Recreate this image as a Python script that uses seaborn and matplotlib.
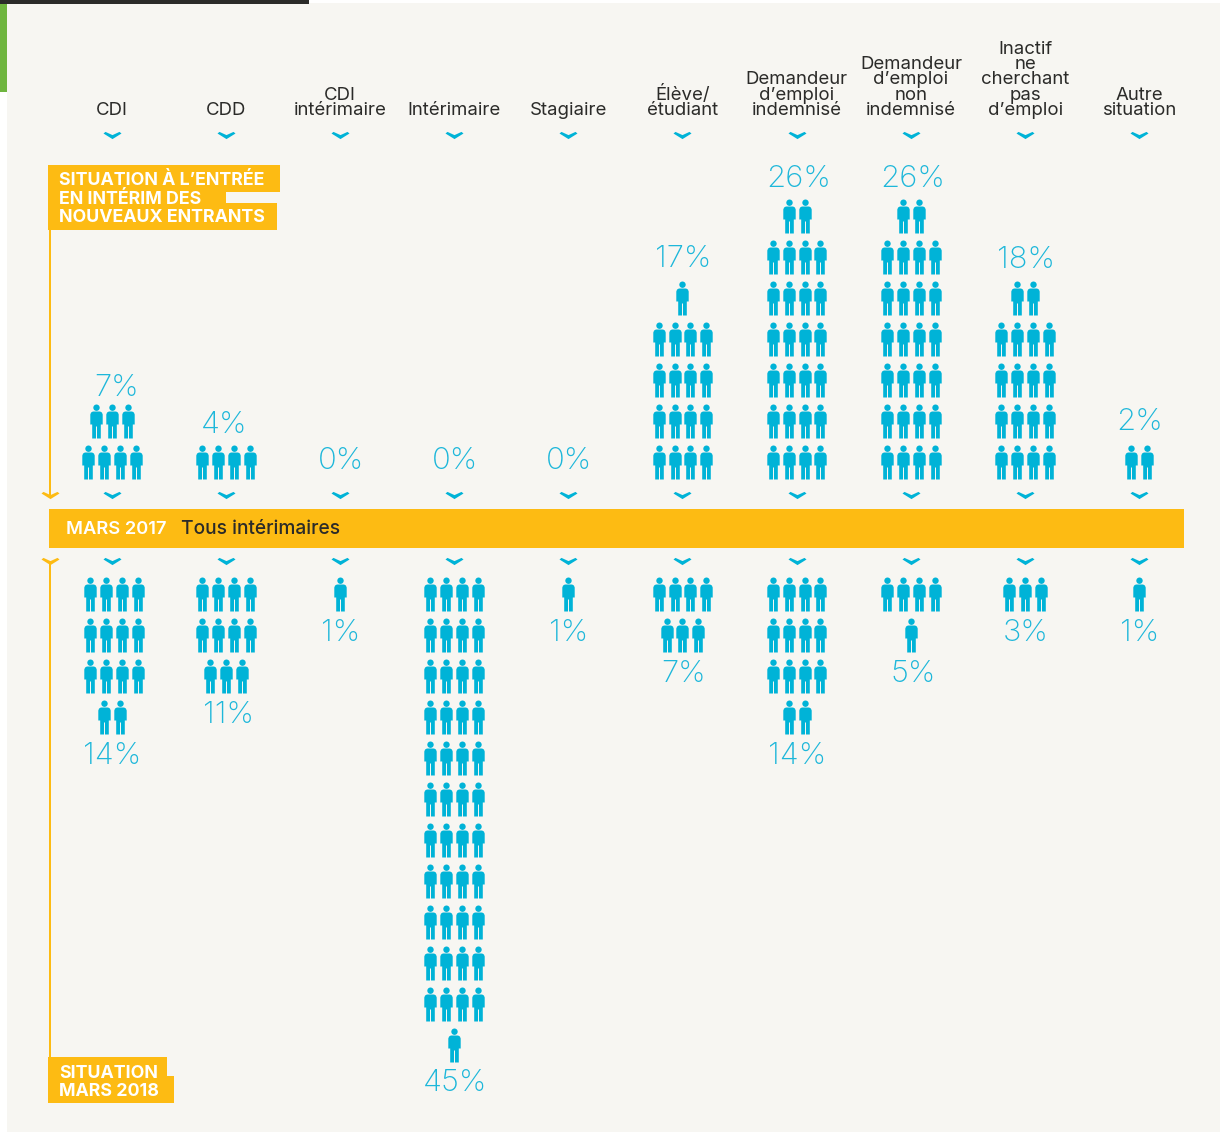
import numpy as np
import pandas as pd
import matplotlib
matplotlib.use("Agg")
import matplotlib.pyplot as plt
import seaborn as sns
from matplotlib.patches import Rectangle
from matplotlib.path import Path

# Data: one person = 1 %
CATEGORIES = [
    "CDI", "CDD", "CDI\nintérimaire", "Intérimaire", "Stagiaire",
    "Élève/\nétudiant", "Demandeur\nd’emploi\nindemnisé",
    "Demandeur\nd’emploi\nnon\nindemnisé",
    "Inactif\nne\ncherchant\npas\nd’emploi", "Autre\nsituation",
]
ENTRY_PCT = [7, 4, 0, 0, 0, 17, 26, 26, 18, 2]
MARS_2018_PCT = [14, 11, 1, 45, 1, 7, 14, 5, 3, 1]

# Layout (pixels of the 1222x1133 picture)
W, H = 1222, 1133
PX = 0.72  # px to pt at dpi 100
COL_X0, COL_STEP = 111.7, 114.15
PER_ROW = 4
PERSON_DX, ROW_DY = 15.9, 41
TOP_ROW_Y, BOTTOM_ROW_Y = 462, 594
ENTRY_NUDGE = [(4, 4), (-2, 0), (0, 0), (0, 0), (0, 0), (0, -2), (1.5, 0), (1.5, 0), (0.5, -1), (0, -3)]
MARS_NUDGE = [(0, 0), (1.5, 0), (0, 0), (0, -1), (0, 0), (0, 0), (0, 0), (1.5, 0), (0, 0), (0, 0)]
# first column of the lower block sits a little to the right on its full rows
MARS_FULL_ROW_SHIFT = [2, 0, 0, 0, 0, 0, 0, 0, 0, 0]
BLUE = "#00B3D7"
LABEL_BLUE = "#1DB7DA"
YELLOW = "#FDBB13"
DARK = "#2B2B29"
PANEL = "#F7F6F2"
GREEN = "#6FB53F"


def person_marker():
    # head + body, y goes up, total height 34 units
    head = Path.circle((0, 13.8), 3.2)
    body = Path(
        [(-3.6, 10), (3.6, 10), (5.4, 9), (6.2, 7), (6.2, -3), (4.3, -3),
         (4.3, -17), (0.5, -17), (0.5, -5), (-0.5, -5), (-0.5, -17),
         (-4.3, -17), (-4.3, -3), (-6.2, -3), (-6.2, 7), (-5.4, 9), (-3.6, 10)],
        closed=True,
    )
    return Path.make_compound_path(head, body)


def chevron_marker():
    return Path(
        [(-9, 2), (-7, 3.6), (0, 0.4), (7, 3.6), (9, 2), (0, -3.6), (-9, 2)],
        closed=True,
    )


def person_rows(pcts, first_y, direction, full_shift=None):
    """One row per PER_ROW people, stacked from first_y, last row centred."""
    rows = []
    for col, n in enumerate(pcts):
        cx = COL_X0 + col * COL_STEP
        for k in range(0, n, PER_ROW):
            in_row = min(PER_ROW, n - k)
            shift = full_shift[col] if full_shift and in_row == PER_ROW else 0
            for i in range(in_row):
                rows.append({
                    "x": cx + shift + (i - (in_row - 1) / 2) * PERSON_DX,
                    "y": first_y + direction * (k // PER_ROW) * ROW_DY,
                })
    return pd.DataFrame(rows)


sns.set_theme(style="white")
plt.rcParams["font.family"] = ["Inter", "DejaVu Sans"]

fig = plt.figure(figsize=(W / 100, H / 100), dpi=100, facecolor="white")
ax = fig.add_axes([0, 0, 1, 1])
ax.set_xlim(0, W)
ax.set_ylim(H, 0)
ax.axis("off")

# Background pieces
ax.add_patch(Rectangle((7, 3), 1213, 1129, color=PANEL, lw=0, zorder=0))
ax.add_patch(Rectangle((0, 0), 309, 4, color=DARK, lw=0, zorder=1))
ax.add_patch(Rectangle((0, 4), 7, 88, color=GREEN, lw=0, zorder=1))

# Central band and yellow guide lines
ax.add_patch(Rectangle((49, 509), 1135, 39, color=YELLOW, lw=0, zorder=1))
ax.add_patch(Rectangle((48.5, 165), 2.6, 330, color=YELLOW, lw=0, zorder=1))
ax.add_patch(Rectangle((48.5, 561), 2.6, 500, color=YELLOW, lw=0, zorder=1))

# Title boxes
for x, y, w, h in [(48, 165, 232, 27), (48, 192, 178, 11), (48, 203, 229, 27),
                   (48, 1057, 119, 20), (48, 1076, 126, 27)]:
    ax.add_patch(Rectangle((x, y), w, h, color=YELLOW, lw=0, zorder=1))

# People
entry_df = person_rows(ENTRY_PCT, TOP_ROW_Y, -1)
mars_df = person_rows(MARS_2018_PCT, BOTTOM_ROW_Y, 1, MARS_FULL_ROW_SHIFT)
people = pd.concat([entry_df, mars_df], ignore_index=True)
sns.scatterplot(data=people, x="x", y="y", marker=person_marker(),
                s=(34 * PX) ** 2, color=BLUE, linewidth=0, ax=ax, zorder=3, legend=False)

# Chevrons under headers and around the band
col_x = COL_X0 + np.arange(len(CATEGORIES)) * COL_STEP
chev = pd.DataFrame({
    "x": np.tile(col_x, 3),
    "y": np.repeat([134.5, 495, 561], len(col_x)),
})
sns.scatterplot(data=chev, x="x", y="y", marker=chevron_marker(),
                s=(18 * PX) ** 2, color=BLUE, linewidth=0, ax=ax, zorder=3, legend=False)
sns.scatterplot(x=[49.5, 49.5], y=[495, 561], marker=chevron_marker(),
                s=(18 * PX) ** 2, color=YELLOW, linewidth=0, ax=ax, zorder=3, legend=False)

# Column headers, last line sits on y=115
for x, name in zip(col_x, CATEGORIES):
    ax.text(x + 0.3, 115, name, ha="center", va="baseline", ma="center",
            linespacing=0.87, fontsize=18.6 * PX, color=DARK, zorder=4)

# Percent labels
for col, (x, n) in enumerate(zip(col_x, ENTRY_PCT)):
    top_row = (n - 1) // PER_ROW if n else 0
    y = TOP_ROW_Y - top_row * ROW_DY - 29 + ENTRY_NUDGE[col][1]
    if n == 0:
        y = TOP_ROW_Y + 7
    ax.text(x + 0.7 + ENTRY_NUDGE[col][0], y, f"{n}%", ha="center", va="baseline",
            fontsize=31 * PX, color=LABEL_BLUE, fontweight="light", zorder=4)

for col, (x, n) in enumerate(zip(col_x, MARS_2018_PCT)):
    last_row = (n - 1) // PER_ROW
    y = BOTTOM_ROW_Y + last_row * ROW_DY + 47 + MARS_NUDGE[col][1]
    ax.text(x + 0.7 + MARS_NUDGE[col][0], y, f"{n}%", ha="center", va="baseline",
            fontsize=31 * PX, color=LABEL_BLUE, fontweight="light", zorder=4)

# Box and band texts
for y, line in [(185, "SITUATION À L’ENTRÉE"), (204, "EN INTÉRIM DES"), (222, "NOUVEAUX ENTRANTS"),
                (1078, "SITUATION"), (1096, "MARS 2018")]:
    ax.text(59, y, line, ha="left", va="baseline", fontsize=17.8 * PX,
            fontweight="bold", color="white", zorder=4)
ax.text(66, 534, "MARS 2017", ha="left", va="baseline", fontsize=18.3 * PX,
        fontweight="semibold", color="white", zorder=4)
ax.text(181, 534, "Tous intérimaires", ha="left", va="baseline", fontsize=19.2 * PX,
        fontweight="medium", color=DARK, zorder=4)

fig.savefig("out.png", dpi=100, facecolor=fig.get_facecolor())
